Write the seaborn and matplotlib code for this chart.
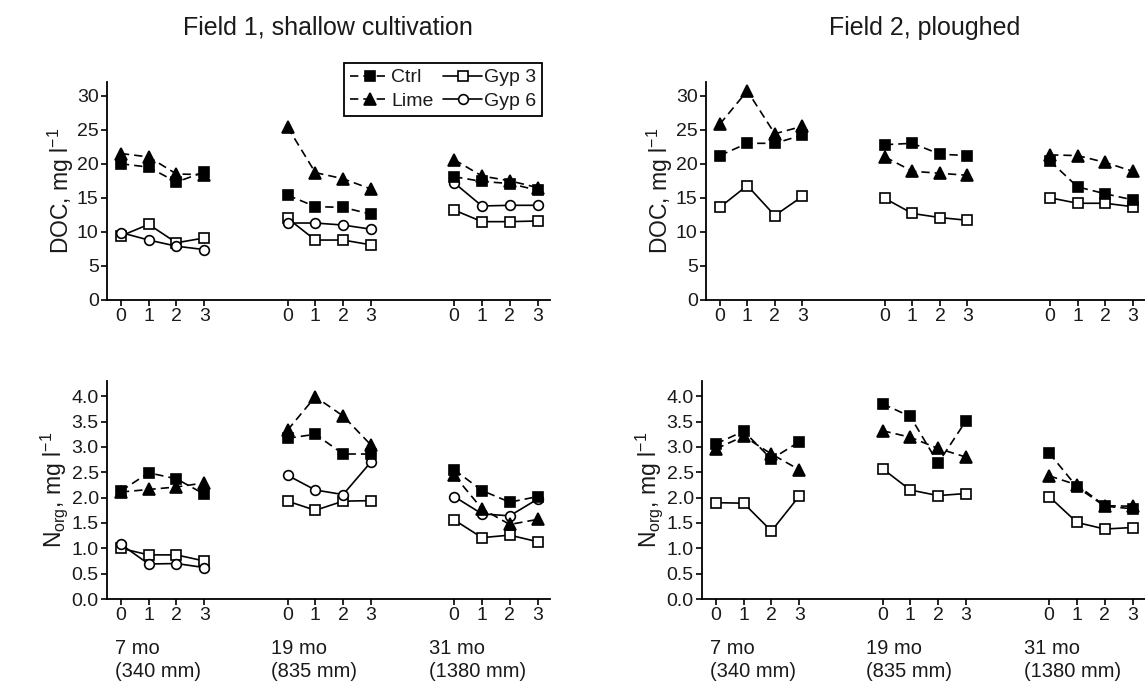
import numpy as np
import pandas as pd
import matplotlib
matplotlib.use("Agg")
import matplotlib.pyplot as plt
from matplotlib.lines import Line2D
import seaborn as sns

sns.set_style("ticks")
plt.rcParams['font.family'] = ['Liberation Sans', 'DejaVu Sans']
plt.rcParams['mathtext.fontset'] = 'custom'
plt.rcParams['mathtext.rm'] = 'Liberation Sans'
plt.rcParams['mathtext.it'] = 'Liberation Sans:italic'

# ---------------- data ----------------
days = [0, 1, 2, 3]
group_offsets = [0, 6, 12]
group_labels = ["7 mo\n(340 mm)", "19 mo\n(835 mm)", "31 mo\n(1380 mm)"]
treatments = ["Ctrl", "Lime", "Gyp 3", "Gyp 6"]

# DOC, Field 1 (per period: 7 mo, 19 mo, 31 mo)
doc_f1_ctrl = [[20.0, 19.5, 17.3, 18.8], [15.4, 13.7, 13.6, 12.6], [18.1, 17.4, 17.1, 16.1]]
doc_f1_lime = [[21.5, 21.0, 18.5, 18.4], [25.4, 18.7, 17.8, 16.3], [20.6, 18.2, 17.5, 16.5]]
doc_f1_gyp3 = [[9.4, 11.1, 8.4, 9.1], [12.0, 8.8, 8.8, 8.1], [13.2, 11.5, 11.5, 11.6]]
doc_f1_gyp6 = [[9.9, 8.8, 7.9, 7.4], [11.3, 11.3, 11.0, 10.4], [17.2, 13.8, 13.9, 13.9]]

# DOC, Field 2
doc_f2_ctrl = [[21.2, 23.0, 23.0, 24.2], [22.8, 23.0, 21.4, 21.2], [20.4, 16.6, 15.6, 14.7]]
doc_f2_lime = [[25.8, 30.7, 24.4, 25.5], [21.0, 18.9, 18.6, 18.3], [21.3, 21.2, 20.2, 18.9]]
doc_f2_gyp3 = [[13.6, 16.8, 12.4, 15.2], [14.9, 12.7, 12.1, 11.7], [15.0, 14.2, 14.2, 13.7]]

# N_org, Field 1
nor_f1_ctrl = [[2.13, 2.49, 2.37, 2.07], [3.17, 3.25, 2.86, 2.86], [2.55, 2.14, 1.91, 2.02]]
nor_f1_lime = [[2.11, 2.16, 2.21, 2.29], [3.33, 3.99, 3.61, 3.04], [2.44, 1.78, 1.47, 1.57]]
nor_f1_gyp3 = [[1.00, 0.87, 0.87, 0.75], [1.93, 1.75, 1.93, 1.94], [1.56, 1.21, 1.26, 1.13]]
nor_f1_gyp6 = [[1.08, 0.69, 0.70, 0.62], [2.44, 2.15, 2.06, 2.70], [2.02, 1.68, 1.64, 1.97]]

# N_org, Field 2
nor_f2_ctrl = [[3.06, 3.31, 2.76, 3.10], [3.85, 3.60, 2.68, 3.51], [2.88, 2.21, 1.83, 1.78]]
nor_f2_lime = [[2.96, 3.21, 2.86, 2.55], [3.32, 3.19, 2.97, 2.80], [2.43, 2.25, 1.84, 1.83]]
nor_f2_gyp3 = [[1.90, 1.89, 1.34, 2.03], [2.57, 2.15, 2.04, 2.08], [2.02, 1.51, 1.38, 1.41]]

titles = ["Field 1, shallow cultivation", "Field 2, ploughed"]
doc_ticks = [0, 5, 10, 15, 20, 25, 30]
nor_ticks = [0.0, 0.5, 1.0, 1.5, 2.0, 2.5, 3.0, 3.5, 4.0]

# ---------------- styles ----------------
dash = (0, (5, 3))
styles = {
    "Ctrl": dict(marker="s", markersize=7, markerfacecolor="black", linestyle=dash),
    "Lime": dict(marker="^", markersize=8, markerfacecolor="black", linestyle=dash),
    "Gyp 3": dict(marker="s", markersize=7, markerfacecolor="white", linestyle="-"),
    "Gyp 6": dict(marker="o", markersize=7, markerfacecolor="white", linestyle="-"),
}
TXT = "#1a1a1a"

W, H = 1145, 684
fig = plt.figure(figsize=(W / 100, H / 100), dpi=100)

def add_ax(l, r, b, t):
    return fig.add_axes([l / W, 1 - b / H, (r - l) / W, (b - t) / H])

ax_tl = add_ax(107, 550, 300, 82)
ax_tr = add_ax(706, 1145, 300, 82)
ax_bl = add_ax(107, 550, 599, 381)
ax_br = add_ax(702, 1145, 599, 381)

panels = [
    (ax_tl, {"Ctrl": doc_f1_ctrl, "Lime": doc_f1_lime, "Gyp 3": doc_f1_gyp3, "Gyp 6": doc_f1_gyp6}, "doc"),
    (ax_tr, {"Ctrl": doc_f2_ctrl, "Lime": doc_f2_lime, "Gyp 3": doc_f2_gyp3}, "doc"),
    (ax_bl, {"Ctrl": nor_f1_ctrl, "Lime": nor_f1_lime, "Gyp 3": nor_f1_gyp3, "Gyp 6": nor_f1_gyp6}, "nor"),
    (ax_br, {"Ctrl": nor_f2_ctrl, "Lime": nor_f2_lime, "Gyp 3": nor_f2_gyp3}, "nor"),
]

for ax, series, kind in panels:
    for trt in ["Gyp 3", "Gyp 6", "Ctrl", "Lime"]:
        if trt not in series:
            continue
        for gi, off in enumerate(group_offsets):
            df = pd.DataFrame({"x": [off + d for d in days], "y": series[trt][gi]})
            sns.lineplot(data=df, x="x", y="y", ax=ax, color="black", lw=1.2,
                         markeredgecolor="black", markeredgewidth=1.2,
                         estimator=None, sort=False, clip_on=False,
                         **styles[trt])
    ax.set_xlim(-0.5, 15.45)
    xt = [off + d for off in group_offsets for d in days]
    ax.set_xticks(xt)
    ax.set_xticklabels([str(d) for _ in group_offsets for d in days])
    ax.set_xlabel("")
    if kind == "doc":
        ax.set_ylim(0, 32)
        ax.set_yticks(doc_ticks)
        ax.set_yticklabels([str(t) for t in doc_ticks])
        ax.set_ylabel("DOC, mg l$^{\\mathrm{-1}}$", fontsize=16.5, labelpad=1, color=TXT)
    else:
        ax.set_ylim(0, 4.3)
        ax.set_yticks(nor_ticks)
        ax.set_yticklabels(["%.1f" % t for t in nor_ticks])
        ax.set_ylabel("N$_{\\mathrm{org}}$, mg l$^{\\mathrm{-1}}$", fontsize=16.5, labelpad=1, color=TXT)
    sns.despine(ax=ax)
    for sp in ["left", "bottom"]:
        ax.spines[sp].set_linewidth(1.3)
        ax.spines[sp].set_color("black")
    ax.tick_params(axis="both", labelsize=14, length=4, width=1.2, color="black",
                   labelcolor=TXT, pad=2)

for ax in [ax_bl, ax_br]:
    for gi, off in enumerate(group_offsets):
        xl = off + [-0.22, -0.6, -0.9][gi]
        ax.text(xl, -0.185, group_labels[gi], transform=ax.get_xaxis_transform(),
                ha="left", va="top", fontsize=14.5, linespacing=1.25, color=TXT)

fig.text(328 / W, 1 - 28 / H, titles[0], ha="center", va="center", fontsize=18, color=TXT)
fig.text(925 / W, 1 - 28 / H, titles[1], ha="center", va="center", fontsize=18, color=TXT)

handles = []
for trt in treatments:
    handles.append(Line2D([], [], color="black", lw=1.2, markeredgecolor="black",
                          markeredgewidth=1.2, **styles[trt]))
leg = ax_tl.legend(handles, treatments, ncol=2, loc="upper right",
                   bbox_to_anchor=(542 / W, 1 - 63 / H), bbox_transform=fig.transFigure,
                   fontsize=14, frameon=True, fancybox=False, framealpha=1,
                   edgecolor="black", handlelength=2.0, handletextpad=0.1,
                   columnspacing=0.5, borderpad=0.3, labelspacing=0.3, borderaxespad=0)
for t in leg.get_texts():
    t.set_color(TXT)
leg.get_frame().set_linewidth(1.3)

fig.savefig("out.png", dpi=100)
